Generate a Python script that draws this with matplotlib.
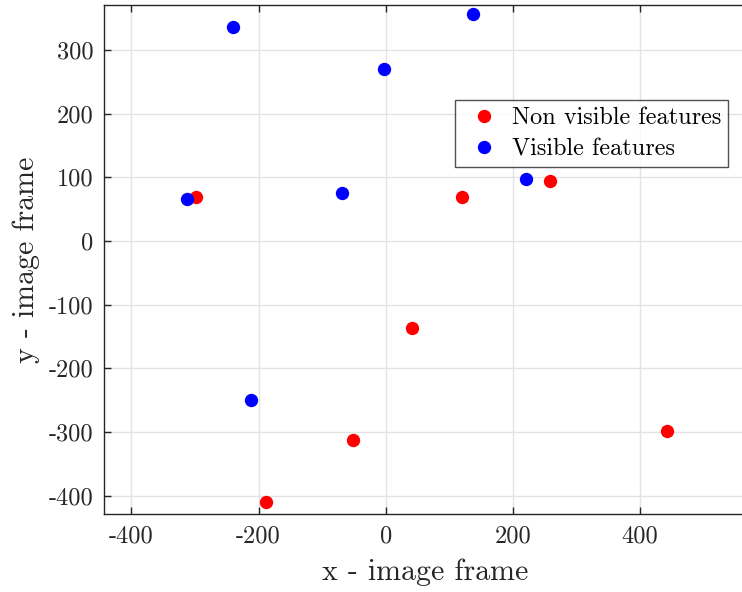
import matplotlib
matplotlib.use("Agg")
import matplotlib.pyplot as plt

plt.rcParams['font.family'] = 'serif'
plt.rcParams['font.serif'] = ['cmr10', 'DejaVu Serif']
plt.rcParams['mathtext.fontset'] = 'cm'
plt.rcParams['axes.unicode_minus'] = False
plt.rcParams['axes.formatter.use_mathtext'] = True

nonvis_x = [-299, 120, 259, 41, -52, -188, 442]
nonvis_y = [69, 69, 94, -137, -312, -410, -298]
vis_x = [-312, -240, -3, 137, 220, -69, -212]
vis_y = [66, 336, 270, 356, 97, 76, -250]
xticks = [-400, -200, 0, 200, 400]
yticks = [-400, -300, -200, -100, 0, 100, 200, 300]

fig = plt.figure(figsize=(7.42, 5.92), dpi=100)
ax = fig.add_axes([104.3/742, (592-514.3)/592, (746-104.3)/742, (514.3-5)/592])

ax.plot(nonvis_x, nonvis_y, 'o', color='#ff0000', markersize=9.6, markeredgewidth=0, label='Non visible features', zorder=3)
ax.plot(vis_x, vis_y, 'o', color='#0000ff', markersize=9.6, markeredgewidth=0, label='Visible features', zorder=3)

ax.set_xlim(-442.5, 566.5)
ax.set_ylim(-429.3, 370.7)
ax.set_xticks(xticks)
ax.set_yticks(yticks)
ax.set_xticklabels([str(v) for v in xticks])
ax.set_yticklabels([str(v) for v in yticks])
ax.grid(True, color='#e3e3e3', linewidth=1.0)
ax.set_axisbelow(True)
for s in ax.spines.values():
    s.set_color('#262626')
    s.set_linewidth(1.0)
ax.spines['right'].set_visible(False)
ax.tick_params(direction='in', length=5, width=1, colors='#262626', labelsize=17.5, top=True, right=False, pad=8)
ax.set_xlabel('x - image frame', fontsize=21.5, color='#262626', labelpad=8)
ax.set_ylabel('y - image frame', fontsize=21.5, color='#262626', labelpad=6)

leg = ax.legend(loc='upper right', bbox_to_anchor=(728.3/742, (592-100)/592), bbox_transform=fig.transFigure,
                fontsize=17.5, frameon=True, fancybox=False, edgecolor='#262626', borderpad=0.3,
                handletextpad=0.2, labelspacing=0.35, handlelength=1.84, borderaxespad=0)
leg.get_frame().set_linewidth(1.0)

fig.savefig('out.png', dpi=100)
